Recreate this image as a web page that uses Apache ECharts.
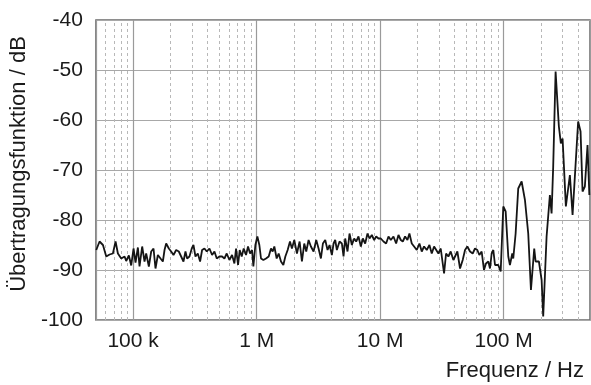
<!DOCTYPE html>
<html>
<head>
<meta charset="utf-8">
<script src="https://cdn.jsdelivr.net/npm/echarts@6/dist/echarts.min.js"></script>
<style>
  html, body { margin: 0; padding: 0; background: #fff; }
  #chart { width: 591px; height: 385px; }
</style>
</head>
<body>
<div id="chart"></div>
<script>
// Frequenz in Hz
const freqHz = [
  50.3e3, 53.5e3, 57e3, 60.6e3, 64.5e3, 68.6e3, 72.1e3, 75.3e3, 80.1e3, 85.3e3,
  87.9e3, 92.4e3, 96.5e3, 100.8e3, 104.6e3, 109.3e3, 112.7e3, 118.4e3, 123.7e3, 127.6e3,
  134.1e3, 140.1e3, 146.3e3, 151.8e3, 158.6e3, 166.7e3, 174.1e3, 179.6e3, 185.2e3, 194.6e3,
  203.2e3, 212.3e3, 223.1e3, 234.4e3, 244.8e3, 255.7e3, 265.4e3, 273.7e3, 285.9e3, 298.5e3,
  308e3, 319.7e3, 333.9e3, 348.6e3, 361.9e3, 378e3, 394.8e3, 414.9e3, 436e3, 455.4e3,
  475.6e3, 499.5e3, 525.2e3, 548.6e3, 572.8e3, 602e3, 632.6e3, 660.7e3, 681.4e3, 707.3e3,
  729.5e3, 757.2e3, 786e3, 821e3, 852e3, 884.4e3, 917.9e3, 941e3, 976.8e3, 1.014e6,
  1.052e6, 1.085e6, 1.134e6, 1.191e6, 1.252e6, 1.307e6, 1.349e6, 1.391e6, 1.453e6, 1.508e6,
  1.575e6, 1.645e6, 1.708e6, 1.783e6, 1.862e6,
  1.931e6, 2.017e6, 2.12e6, 2.228e6, 2.327e6, 2.43e6, 2.522e6, 2.634e6, 2.751e6, 2.891e6,
  3.038e6, 3.173e6, 3.314e6, 3.44e6, 3.593e6, 3.752e6, 3.894e6, 4.067e6, 4.195e6, 4.327e6,
  4.463e6, 4.69e6, 4.899e6, 5.053e6, 5.212e6, 5.443e6, 5.65e6, 5.902e6, 6.163e6, 6.397e6,
  6.68e6, 6.977e6, 7.242e6, 7.563e6, 7.9e6, 8.2e6, 8.563e6, 8.944e6, 9.284e6, 9.694e6,
  10.12e6, 10.64e6, 11.18e6, 11.68e6, 12.2e6, 12.82e6, 13.47e6, 14.07e6, 14.69e6, 15.25e6,
  15.92e6, 16.63e6, 17.26e6, 18.03e6, 18.83e6, 19.79e6, 20.8e6, 21.72e6, 22.68e6, 23.84e6,
  25.06e6, 26.17e6, 27.33e6, 28.36e6, 29.62e6, 30.94e6, 32.11e6, 32.92e6, 34.17e6, 35.68e6,
  37.26e6, 39.16e6, 40.64e6, 42.19e6, 44.34e6, 46.6e6, 48.67e6, 50.82e6, 53.41e6, 56.12e6,
  58.61e6, 61.2e6, 63.53e6, 66.35e6, 69.29e6, 71.93e6, 75.12e6, 77.5e6, 79.94e6, 82.46e6,
  85.1e6, 90.4e6, 94.6e6, 99.3e6, 103.8e6, 109e6, 112.4e6, 117.4e6, 119.6e6, 125e6,
  131.2e6, 139.8e6, 148.7e6, 158.1e6, 166.3e6, 176.8e6, 181.4e6, 192.9e6, 202.9e6, 209e6,
  222.6e6, 236.7e6, 244.3e6, 251.8e6, 263.3e6, 279.9e6, 290.5e6, 299.9e6, 318.9e6, 343.6e6,
  361.3e6, 400.9e6, 419.3e6, 435.2e6, 454.3e6, 477.5e6, 493.9e6
]

// Übertragungsfunktion in dB
const gainDb = [
  -86, -84.3, -85, -87.3, -86.9, -86.7, -84.3, -86.7, -87.7, -87.3,
  -88.2, -87.1, -89.1, -85.7, -88.5, -85.5, -89.3, -85.3, -88.3, -86.7,
  -89.3, -86.3, -85.7, -89.7, -87, -87.7, -88.3, -86, -84.7, -85.7,
  -86.3, -87, -86, -86.3, -87.3, -88.3, -86.3, -87.7, -87.3, -85.7,
  -85, -87.3, -86.7, -88.3, -86, -85.7, -86.3, -85.7, -87, -86.3,
  -87.7, -87.3, -87.3, -87.7, -86.7, -88, -87, -88.7, -85.7, -89,
  -86, -87.3, -85.7, -87, -85.3, -86.7, -86, -89.3, -85, -83.3,
  -85, -87.7, -88, -87.7, -87.3, -85.7, -86.3, -85.3, -87.7, -86.7,
  -88.3, -89, -87.3, -86, -84.3,
  -85.7, -84, -86.7, -84.3, -88.3, -84.7, -86.3, -84, -85.3, -86.3,
  -84, -85.7, -87.7, -84.7, -84, -86, -85, -87, -84.7, -84,
  -86, -84.3, -84.7, -87.3, -83.7, -86.3, -82.7, -85, -83.7, -84.3,
  -83.3, -85.3, -83.7, -84.7, -82.7, -83.7, -83, -84, -83.3, -83.7,
  -83.7, -84.3, -84.7, -83.3, -84, -83.3, -84.7, -83, -84, -84.3,
  -83.3, -84, -82.7, -84.7, -85.3, -86, -84.7, -86.3, -85.3, -86,
  -85, -86.7, -85.3, -85.7, -86.7, -85.7, -86, -90.7, -86.7, -87.3,
  -86.3, -88, -87.7, -86.3, -89.7, -88, -86, -85.3, -86.3, -86.7,
  -85.7, -86, -87, -86.3, -90, -88.7, -88.3, -89.7, -86.7, -86,
  -89, -89, -90.3, -77.3, -78.3, -87.3, -89, -86.7, -87.7, -82.7,
  -73.7, -72.3, -76, -82.7, -94, -85.7, -88.3, -88.3, -92, -99.3,
  -83.3, -75, -78.7, -69.3, -50.3, -61.3, -64.7, -63.7, -77.3, -71,
  -79, -60.3, -62.3, -74.3, -73.3, -65, -75
]

// Achsenbeschriftung
const xTickValues = [1e5, 1e6, 1e7, 1e8]
const xTickLabels = ['100 k', '1 M', '10 M', '100 M']
const decades = [1e4, 1e5, 1e6, 1e7, 1e8]
const minorSteps = [2, 3, 4, 5, 6, 7, 8, 9]

const xMin = 5e4
const xMax = 5e8

// gestrichelte Hilfslinien zwischen den Dekaden
const minorLines = []
decades.forEach(d => {
  minorSteps.forEach(m => {
    const v = d * m
    if (v > xMin && v < xMax) minorLines.push({ xAxis: v })
  })
})

const textColor = '#1a1a1a'
const fontFamily = '"Liberation Sans", Arial, sans-serif'

const chart = echarts.init(document.getElementById('chart'))

chart.setOption({
  animation: false,
  textStyle: { fontFamily: fontFamily },
  grid: {
    left: 95,
    right: 1,
    top: 20,
    bottom: 65,
    show: true,
    borderColor: '#6a6a6a',
    borderWidth: 1.5,
    containLabel: false
  },
  xAxis: {
    type: 'log',
    logBase: 10,
    min: xMin,
    max: xMax,
    name: 'Frequenz / Hz',
    nameLocation: 'end',
    nameGap: -6,
    nameTextStyle: {
      color: textColor,
      fontSize: 22,
      align: 'right',
      verticalAlign: 'top',
      padding: [40, 0, 0, 0]
    },
    axisLine: { show: false },
    axisTick: { show: false },
    axisLabel: {
      color: textColor,
      fontSize: 21,
      margin: 11,
      showMinLabel: false,
      showMaxLabel: false,
      formatter: function (v) {
        const i = xTickValues.findIndex(t => Math.abs(t - v) / t < 1e-6)
        return i >= 0 ? xTickLabels[i] : ''
      }
    },
    splitLine: { show: true, lineStyle: { color: '#9a9a9a', width: 1.2 } }
  },
  yAxis: {
    type: 'value',
    min: -100,
    max: -40,
    interval: 10,
    name: 'Übertragungsfunktion / dB',
    nameLocation: 'middle',
    nameGap: 60,
    nameTextStyle: { color: textColor, fontSize: 22, padding: [0, 0, 0, 12] },
    axisLine: { show: false },
    axisTick: { show: false },
    axisLabel: { color: textColor, fontSize: 21, margin: 13 },
    splitLine: { show: true, lineStyle: { color: '#a8a8a8', width: 1.2 } }
  },
  series: [
    {
      // nur für die Hilfslinien
      type: 'line',
      data: [],
      silent: true,
      z: 1,
      markLine: {
        silent: true,
        symbol: ['none', 'none'],
        label: { show: false },
        lineStyle: { color: '#b8b8b8', type: [3, 3], width: 1 },
        data: minorLines,
        animation: false
      }
    },
    {
      type: 'line',
      data: freqHz.map((f, i) => [f, gainDb[i]]),
      showSymbol: false,
      symbol: 'none',
      z: 5,
      lineStyle: { color: '#151515', width: 1.8 }
    }
  ]
})
</script>
</body>
</html>
